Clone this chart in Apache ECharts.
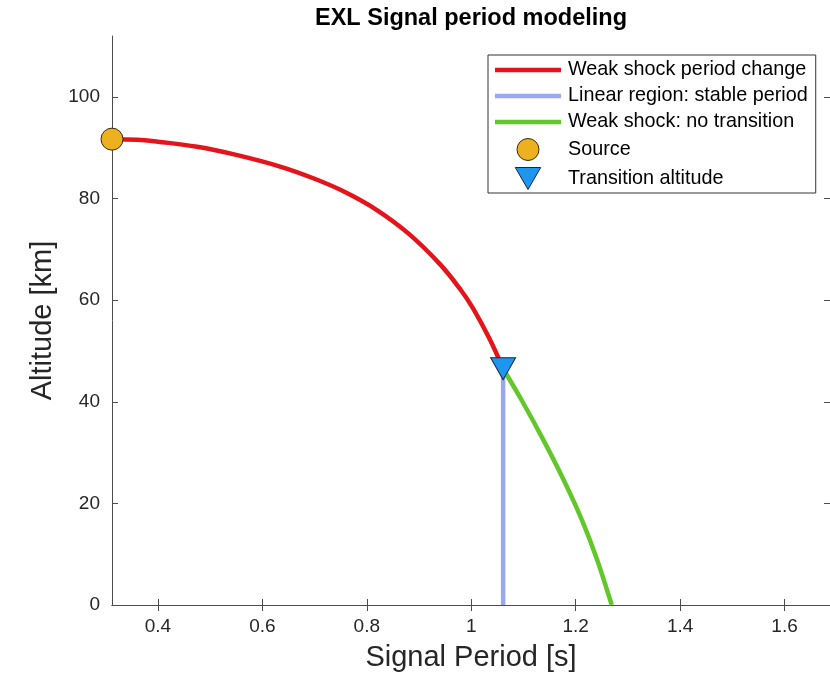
<!DOCTYPE html>
<html>
<head>
<meta charset="utf-8">
<title>EXL Signal period modeling</title>
<script src="https://cdn.jsdelivr.net/npm/echarts@6/dist/echarts.min.js"></script>
<style>
	html, body { margin: 0; padding: 0; background: #fff; }
	#content { width: 830px; height: 685px; }
</style>
</head>
<body>
<div id="content"></div>
<script>
	// weak shock period change (red)
	const shockPeriod = [0.312, 0.36, 0.40, 0.475, 0.55, 0.634, 0.70, 0.76, 0.82, 0.88, 0.94, 0.98, 1.004, 1.035, 1.061];
	const shockAlt = [91.7, 91.6, 91.2, 90.2, 88.6, 86.3, 83.9, 81.2, 77.7, 73.1, 67.1, 62.0, 58.3, 52.4, 46.5];
	// linear region: stable period (blue)
	const linearPeriod = [1.061, 1.061];
	const linearAlt = [0, 46.5];
	// weak shock: no transition (green)
	const noTransPeriod = [1.061, 1.096, 1.138, 1.177, 1.212, 1.241, 1.269];
	const noTransAlt = [46.5, 40.4, 32.5, 24.6, 16.7, 8.9, 0];
	// markers
	const sourcePoint = [0.312, 91.7];
	const transitionPoint = [1.061, 46.5];
	// axes
	const xTicks = [0.4, 0.6, 0.8, 1, 1.2, 1.4, 1.6];
	const yTicks = [0, 20, 40, 60, 80, 100];
	const seriesNames = ['Weak shock period change', 'Linear region: stable period', 'Weak shock: no transition', 'Source', 'Transition altitude'];

	const font = 'Liberation Sans, Arial, Helvetica, sans-serif';
	const axisColor = '#4d4d4d';
	const triangle = 'path://M0,0L2,0L1,1.732Z';
	const lineIcon = 'path://M0,0h66v4.5h-66z';

	function zip(xs, ys) {
		return xs.map(function (x, i) { return [x, ys[i]]; });
	}

	let chart = echarts.init(document.getElementById('content'));
	chart.setOption({
		backgroundColor: '#fff',
		animation: false,
		title: {
			text: 'EXL Signal period modeling',
			left: 471,
			top: 7,
			padding: 0,
			textAlign: 'center',
			textStyle: { fontFamily: font, fontSize: 23.5, fontWeight: 'bold', color: '#000' }
		},
		legend: {
			orient: 'vertical',
			left: 488,
			top: 55,
			padding: [5, 8, 3, 7],
			itemWidth: 66,
			itemHeight: 22,
			itemGap: 6,
			borderColor: '#333',
			borderWidth: 1,
			backgroundColor: '#fff',
			textStyle: { fontFamily: font, fontSize: 19.8, color: '#000', padding: [0, 0, 0, 2] },
			data: [
				{ name: seriesNames[0], icon: lineIcon },
				{ name: seriesNames[1], icon: lineIcon },
				{ name: seriesNames[2], icon: lineIcon },
				{ name: seriesNames[3], itemStyle: { borderColor: '#3a2c08', borderWidth: 1 } },
				{ name: seriesNames[4], itemStyle: { borderColor: '#142a44', borderWidth: 1 } }
			]
		},
		grid: { left: 112, right: 0, top: 36, bottom: 80 },
		xAxis: [{
			type: 'value',
			position: 'bottom',
			min: sourcePoint[0],
			max: 1.687,
			name: 'Signal Period [s]',
			nameLocation: 'middle',
			nameGap: 38,
			nameTextStyle: { fontFamily: font, fontSize: 29, color: '#262626' },
			axisLine: { show: true, lineStyle: { color: axisColor, width: 1 } },
			axisTick: { show: true, inside: true, length: 6, customValues: xTicks, lineStyle: { color: axisColor } },
			axisLabel: { customValues: xTicks, margin: 12, fontFamily: font, fontSize: 19, color: '#262626' },
			splitLine: { show: false }
		}, {
			type: 'value',
			position: 'top',
			min: sourcePoint[0],
			max: 1.687,
			axisLine: { show: true, lineStyle: { color: axisColor, width: 1 } },
			axisTick: { show: true, inside: true, length: 6, customValues: xTicks, lineStyle: { color: axisColor } },
			axisLabel: { show: false },
			splitLine: { show: false }
		}],
		yAxis: [{
			type: 'value',
			position: 'left',
			min: 0,
			max: 112,
			name: 'Altitude [km]',
			nameLocation: 'middle',
			nameGap: 54,
			nameTextStyle: { fontFamily: font, fontSize: 29, color: '#262626' },
			axisLine: { show: true, lineStyle: { color: axisColor, width: 1 } },
			axisTick: { show: true, inside: true, length: 6, customValues: yTicks, lineStyle: { color: axisColor } },
			axisLabel: { customValues: yTicks, margin: 12, fontFamily: font, fontSize: 19, color: '#262626' },
			splitLine: { show: false }
		}, {
			type: 'value',
			position: 'right',
			min: 0,
			max: 112,
			axisLine: { show: false },
			axisTick: { show: true, inside: true, length: 6, customValues: yTicks, lineStyle: { color: axisColor } },
			axisLabel: { show: false },
			splitLine: { show: false }
		}],
		series: [{
			name: seriesNames[0],
			type: 'line',
			data: zip(shockPeriod, shockAlt),
			symbol: 'none',
			smooth: 0.4,
			z: 2,
			lineStyle: { color: '#e5141b', width: 4.5 },
			itemStyle: { color: '#e5141b' }
		}, {
			name: seriesNames[1],
			type: 'line',
			data: zip(linearPeriod, linearAlt),
			symbol: 'none',
			z: 2,
			lineStyle: { color: '#9aa8f0', width: 4.5 },
			itemStyle: { color: '#9aa8f0' }
		}, {
			name: seriesNames[2],
			type: 'line',
			data: zip(noTransPeriod, noTransAlt),
			symbol: 'none',
			smooth: 0.3,
			z: 2,
			lineStyle: { color: '#62c82a', width: 4.5 },
			itemStyle: { color: '#62c82a' }
		}, {
			name: seriesNames[3],
			type: 'scatter',
			data: [sourcePoint],
			symbol: 'circle',
			symbolSize: 22,
			z: 5,
			itemStyle: { color: '#edb120', borderColor: '#3a2c08', borderWidth: 1, opacity: 1 }
		}, {
			name: seriesNames[4],
			type: 'scatter',
			data: [transitionPoint],
			symbol: triangle,
			symbolSize: [25, 22],
			z: 5,
			itemStyle: { color: '#1e96f0', borderColor: '#142a44', borderWidth: 1, opacity: 1 }
		}]
	});
</script>
</body>
</html>
